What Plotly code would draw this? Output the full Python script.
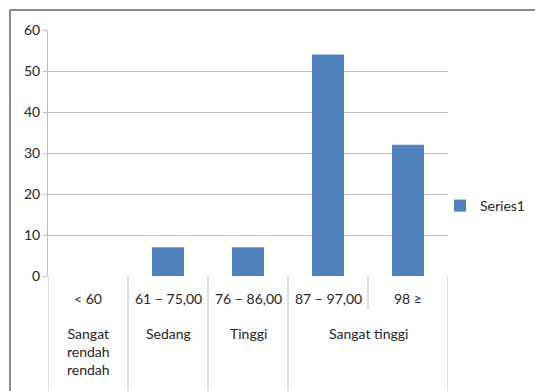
import plotly.graph_objects as go

# Score ranges, their category groups and the counts per range
ranges = ["< 60", "61 – 75,00", "76 – 86,00", "87 – 97,00", "98 ≥"]
counts = [0, 7, 7, 54, 32]
groups = [("Sangat<br>rendah<br>rendah", 0, 0), ("Sedang", 1, 1),
          ("Tinggi", 2, 2), ("Sangat tinggi", 3, 4)]
y_ticks = [0, 10, 20, 30, 40, 50, 60]

W, H = 535, 391
L, R, T, B = 48, 87, 30, 115
pw, ph = W - L - R, H - T - B

def px_x(x):
    return (x - L) / pw

def px_y(y):
    return (H - B - y) / ph

FAM = "Lato, 'Open Sans', sans-serif"

fig = go.Figure()
fig.add_trace(go.Bar(
    x=list(range(len(ranges))), y=counts, name="Series1",
    marker=dict(color="#4f81bd", line=dict(width=0)),
    width=0.4,
))

font = dict(family=FAM, size=14, color="#262626")
ann = []
for i, lab in enumerate(ranges):
    ann.append(dict(x=i, y=px_y(298), xref="x", yref="paper", text=lab,
                    showarrow=False, font=font, yanchor="middle"))
for text, a, b in groups:
    ann.append(dict(x=(a + b) / 2, y=px_y(323), xref="x", yref="paper", text=text,
                    showarrow=False, font=font, yanchor="top"))

grid = "#bfbfbf"
shapes = []
# category separators below the axis
for k in range(len(ranges) + 1):
    xb = k - 0.5
    inner = any(a < k <= b for _, a, b in groups)
    y_end = px_y(310) if inner else px_y(H)
    shapes.append(dict(type="line", xref="x", yref="paper", x0=xb, x1=xb,
                       y0=0, y1=y_end, line=dict(color=grid, width=1)))
# outer chart frame
shapes.append(dict(type="line", xref="paper", yref="paper", x0=px_x(10), x1=px_x(W),
                   y0=px_y(10), y1=px_y(10), line=dict(color="#8c8c8c", width=2)))
shapes.append(dict(type="line", xref="paper", yref="paper", x0=px_x(10), x1=px_x(10),
                   y0=px_y(10), y1=px_y(H), line=dict(color="#8c8c8c", width=2)))

fig.update_layout(
    width=W, height=H, margin=dict(l=L, r=R, t=T, b=B, autoexpand=False),
    paper_bgcolor="white", plot_bgcolor="white",
    showlegend=True,
    xaxis=dict(range=[-0.5, len(ranges) - 0.5], showticklabels=False,
               showgrid=False, zeroline=False, showline=False, fixedrange=True),
    yaxis=dict(range=[0, 60], tickvals=y_ticks, showgrid=True, gridcolor=grid,
               gridwidth=1, zeroline=False, showline=True, linecolor=grid,
               ticks="outside", ticklen=4, tickcolor=grid,
               tickfont=dict(family=FAM, size=14, color="#262626")),
    legend=dict(x=px_x(440), y=px_y(206), xanchor="left", yanchor="middle",
                font=dict(family=FAM, size=14, color="#262626"),
                itemwidth=30, bgcolor="rgba(0,0,0,0)"),
    annotations=ann, shapes=shapes,
)

fig.write_html("out.html")
